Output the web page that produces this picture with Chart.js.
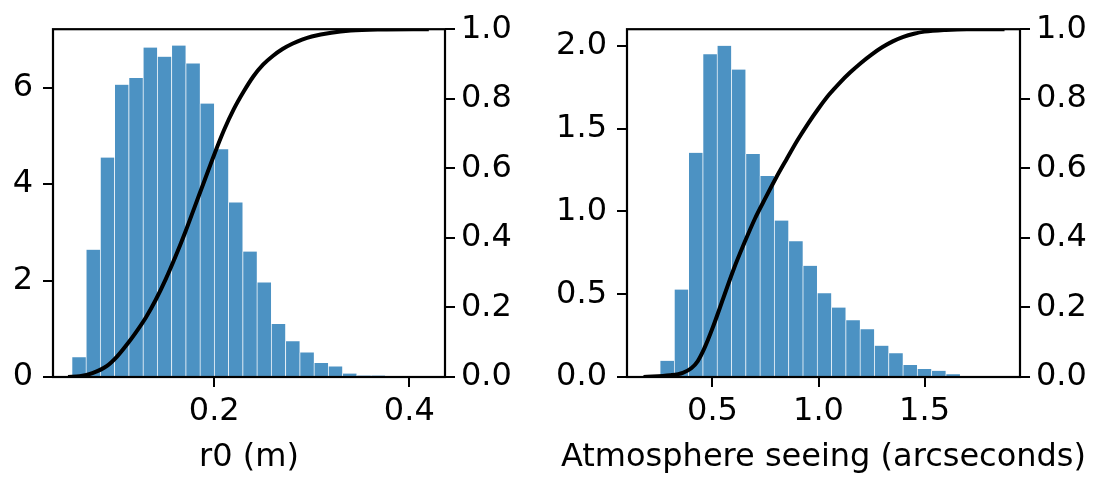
<!DOCTYPE html>
<html>
<head>
<meta charset="utf-8">
<script src="https://cdn.jsdelivr.net/npm/chart.js@4/dist/chart.umd.min.js"></script>
<style>
  body { margin: 0; background: #fff; }
  #wrap { position: relative; width: 1106px; height: 477px; }
  canvas { position: absolute; top: 0; }
  #c1 { left: 0; }
  #c2 { left: 553px; }
</style>
</head>
<body>
<div id="wrap">
  <canvas id="c1" width="553" height="477"></canvas>
  <canvas id="c2" width="553" height="477"></canvas>
</div>
<script>
// r0 histogram (density), bin edges
const r0Edges = [0.0537, 0.0683, 0.0829, 0.0975, 0.1121, 0.1268, 0.1414, 0.1560, 0.1706,
  0.1852, 0.1998, 0.2144, 0.2290, 0.2436, 0.2582, 0.2729, 0.2875, 0.3021, 0.3167,
  0.3313, 0.3459, 0.3605, 0.3751, 0.3897, 0.4043, 0.4189];
const r0Density = [0.41, 2.64, 4.55, 6.06, 6.20, 6.83, 6.64, 6.87, 6.50, 5.67, 4.72, 3.62,
  2.60, 1.96, 1.10, 0.74, 0.51, 0.29, 0.22, 0.07, 0.03, 0.03, 0.01, 0.005, 0.003];
// cumulative curve for r0
const r0CdfX = [0.050, 0.062, 0.075, 0.09, 0.10, 0.11, 0.12, 0.13, 0.14, 0.15, 0.16, 0.17,
  0.18, 0.19, 0.20, 0.21, 0.22, 0.23, 0.24, 0.25, 0.26, 0.27, 0.28, 0.29, 0.30, 0.32,
  0.34, 0.37, 0.42];
const r0CdfY = [0, 0.002, 0.011, 0.032, 0.058, 0.092, 0.13, 0.172, 0.222, 0.28, 0.345, 0.415,
  0.49, 0.565, 0.64, 0.71, 0.77, 0.82, 0.864, 0.898, 0.923, 0.943, 0.958, 0.970, 0.979,
  0.990, 0.996, 0.999, 1.0];

// seeing histogram (density)
const seeingEdges = [0.1840, 0.2514, 0.3188, 0.3862, 0.4536, 0.5210, 0.5884, 0.6558, 0.7232,
  0.7906, 0.8580, 0.9254, 0.9928, 1.0602, 1.1276, 1.1950, 1.2624, 1.3298, 1.3972,
  1.4646, 1.5320, 1.5994, 1.6668, 1.7342, 1.8016, 1.8690];
const seeingDensity = [0.004, 0.098, 0.528, 1.354, 1.949, 2.0, 1.856, 1.346, 1.213, 0.945,
  0.819, 0.671, 0.506, 0.419, 0.343, 0.289, 0.189, 0.144, 0.073, 0.049, 0.037, 0.016,
  0.004, 0.003, 0.002];
const seeingCdfX = [0.175, 0.30, 0.36, 0.40, 0.43, 0.46, 0.50, 0.55, 0.60, 0.65, 0.70, 0.75,
  0.80, 0.85, 0.90, 0.95, 1.00, 1.05, 1.10, 1.15, 1.20, 1.25, 1.30, 1.35, 1.40, 1.45,
  1.50, 1.60, 1.70, 1.877];
const seeingCdfY = [0, 0.005, 0.012, 0.025, 0.045, 0.08, 0.14, 0.225, 0.31, 0.385, 0.455,
  0.515, 0.573, 0.627, 0.68, 0.728, 0.772, 0.812, 0.846, 0.876, 0.903, 0.927, 0.948,
  0.965, 0.978, 0.987, 0.993, 0.998, 1.0, 1.0];

const r0Ticks = [0.2, 0.4];
const r0DensityTicks = [0, 2, 4, 6];
const seeingTicks = [0.5, 1.0, 1.5];
const seeingDensityTicks = [0, 0.5, 1.0, 1.5, 2.0];
const cdfTicks = [0, 0.2, 0.4, 0.6, 0.8, 1.0];

const FONT = { family: "'DejaVu Sans', sans-serif", size: 32 };
Chart.defaults.font.family = FONT.family;
Chart.defaults.font.size = FONT.size;
Chart.defaults.color = '#000';

// matplotlib draws a box round the axes, and the x label is not squeezed to the axis width
const framePlugin = {
  id: 'frame',
  afterDatasetsDraw(chart) {
    const a = chart.chartArea;
    const ctx = chart.ctx;
    ctx.save();
    ctx.strokeStyle = '#000';
    ctx.lineWidth = 2.2;
    ctx.strokeRect(a.left, a.top, a.right - a.left, a.bottom - a.top);
    ctx.restore();
  },
  afterDraw(chart, args, opts) {
    const a = chart.chartArea;
    const ctx = chart.ctx;
    ctx.save();
    ctx.font = FONT.size + 'px ' + FONT.family;
    ctx.fillStyle = '#000';
    ctx.textAlign = 'center';
    ctx.textBaseline = 'middle';
    ctx.fillText(opts.xTitle, (a.left + a.right) / 2, chart.scales.x.bottom - 19);
    ctx.restore();
  }
};

function tickGrid() {
  return { display: true, offset: false, drawOnChartArea: false, drawTicks: true, tickLength: 10,
    tickWidth: 2, lineWidth: 2, tickColor: '#000', color: '#000' };
}

function makeHist(canvasId, cfg) {
  const bars = cfg.density.map((v, i) => ({ x: (cfg.edges[i] + cfg.edges[i + 1]) / 2, y: v }));
  const line = cfg.cdfX.map((x, i) => ({ x: x, y: cfg.cdfY[i] }));

  return new Chart(document.getElementById(canvasId), {
    type: 'bar',
    data: {
      datasets: [
        {
          type: 'line',
          data: line,
          yAxisID: 'y1',
          borderColor: '#000',
          borderWidth: 4,
          pointRadius: 0,
          cubicInterpolationMode: 'monotone',
          order: 0
        },
        {
          data: bars,
          yAxisID: 'y',
          backgroundColor: 'rgba(31,119,180,0.8)',
          borderColor: 'rgba(255,255,255,0.3)',
          borderWidth: { left: 1, right: 0, top: 0, bottom: 0 },
          borderSkipped: false,
          barPercentage: 1,
          categoryPercentage: 1,
          order: 1
        }
      ]
    },
    options: {
      responsive: false,
      animation: false,
      layout: { padding: { top: 21, left: 0, right: 0, bottom: 0 } },
      plugins: {
        legend: { display: false },
        tooltip: { enabled: false },
        frame: { xTitle: cfg.xTitle }
      },
      scales: {
        x: {
          type: 'linear',
          min: cfg.xMin,
          max: cfg.xMax,
          offset: false,
          afterBuildTicks: (s) => { s.ticks = cfg.xTicks.map(v => ({ value: v })); },
          afterFit: (s) => { s.height = 100; },
          ticks: { font: FONT, color: '#000', padding: 5, maxRotation: 0, autoSkip: false,
            callback: (v) => v.toFixed(1) },
          grid: tickGrid(),
          border: { display: false }
        },
        y: {
          position: 'left',
          min: 0,
          max: cfg.yMax,
          afterBuildTicks: (s) => { s.ticks = cfg.yTicks.map(v => ({ value: v })); },
          afterFit: (s) => { s.width = cfg.leftW; },
          ticks: { font: FONT, color: '#000', padding: 10, callback: cfg.yFmt },
          grid: tickGrid(),
          border: { display: false }
        },
        y1: {
          position: 'right',
          min: 0,
          max: 1,
          afterBuildTicks: (s) => { s.ticks = cdfTicks.map(v => ({ value: v })); },
          afterFit: (s) => { s.width = cfg.rightW; },
          ticks: { font: FONT, color: '#000', padding: 6, callback: (v) => v.toFixed(1) },
          grid: tickGrid(),
          border: { display: false }
        }
      }
    },
    plugins: [framePlugin]
  });
}

makeHist('c1', {
  edges: r0Edges, density: r0Density, cdfX: r0CdfX, cdfY: r0CdfY,
  xMin: 0.0346, xMax: 0.4366, xTicks: r0Ticks, xTitle: 'r0 (m)',
  yMax: 7.21, yTicks: r0DensityTicks, yFmt: (v) => String(v),
  leftW: 53, rightW: 108
});

makeHist('c2', {
  edges: seeingEdges, density: seeingDensity, cdfX: seeingCdfX, cdfY: seeingCdfY,
  xMin: 0.097, xMax: 1.95, xTicks: seeingTicks, xTitle: 'Atmosphere seeing (arcseconds)',
  yMax: 2.1, yTicks: seeingDensityTicks, yFmt: (v) => v.toFixed(1),
  leftW: 74, rightW: 86
});
</script>
</body>
</html>
